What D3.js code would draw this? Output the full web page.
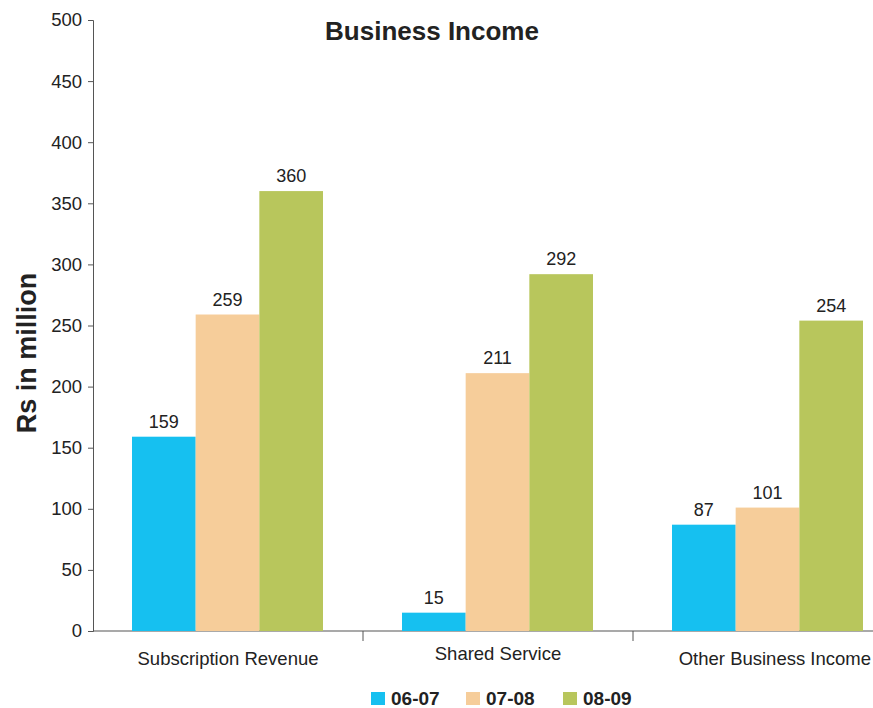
<!DOCTYPE html>
<html>
<head>
<meta charset="utf-8">
<script src="https://cdn.jsdelivr.net/npm/d3@7"></script>
<style>
  body { margin: 0; background: #fff; }
  text { font-family: "Liberation Sans", Arial, sans-serif; fill: #222; }
</style>
</head>
<body>
<div id="chart"></div>
<script>
// chart data
var categories = ["Subscription Revenue", "Shared Service", "Other Business Income"];
var seriesNames = ["06-07", "07-08", "08-09"];
var values0607 = [159, 15, 87];
var values0708 = [259, 211, 101];
var values0809 = [360, 292, 254];
var seriesColors = ["#16c0f0", "#f6cd9a", "#b8c65c"];
var yTicks = [0, 50, 100, 150, 200, 250, 300, 350, 400, 450, 500];

var allValues = [values0607, values0708, values0809];

var svgWidth = 873;
var svgHeight = 708;

var svg = d3.select("#chart")
    .append("svg")
    .attr("width", svgWidth)
    .attr("height", svgHeight);

// scales
var x0 = d3.scaleBand()
    .domain(categories)
    .range([93, 903]);

var x1 = d3.scaleBand()
    .domain(seriesNames)
    .range([39, 230]);

var y = d3.scaleLinear()
    .domain([0, 500])
    .range([631, 20]);

var color = d3.scaleOrdinal()
    .domain(seriesNames)
    .range(seriesColors);

// y axis
var yAxis = svg.append("g")
    .attr("transform", "translate(93,0)")
    .call(d3.axisLeft(y).tickValues(yTicks).tickSize(5).tickPadding(6));
yAxis.select(".domain").attr("stroke", "#555");
yAxis.selectAll(".tick line").attr("stroke", "#555");
yAxis.selectAll(".tick text")
    .style("font-size", "18.5px")
    .attr("fill", "#222");

// x axis line and band ticks
svg.append("line")
    .attr("x1", 93).attr("x2", svgWidth)
    .attr("y1", y(0)).attr("y2", y(0))
    .attr("stroke", "#555")
    .attr("stroke-width", 1.2);

svg.selectAll(".band-tick")
    .data(categories.slice(1))
    .enter()
    .append("line")
    .attr("x1", d => x0(d)).attr("x2", d => x0(d))
    .attr("y1", y(0)).attr("y2", y(0) + 10)
    .attr("stroke", "#555");

// bars
var groups = svg.selectAll(".cat")
    .data(categories)
    .enter()
    .append("g")
    .attr("transform", d => `translate(${x0(d)},0)`);

groups.selectAll("rect")
    .data((d, i) => seriesNames.map((s, j) => ({ series: s, value: allValues[j][i] })))
    .enter()
    .append("rect")
    .attr("x", d => x1(d.series))
    .attr("y", d => y(d.value))
    .attr("width", x1.bandwidth())
    .attr("height", d => y(0) - y(d.value))
    .attr("fill", d => color(d.series));

groups.selectAll(".val")
    .data((d, i) => seriesNames.map((s, j) => ({ series: s, value: allValues[j][i] })))
    .enter()
    .append("text")
    .attr("x", d => x1(d.series) + x1.bandwidth() / 2)
    .attr("y", d => y(d.value) - 9)
    .attr("text-anchor", "middle")
    .style("font-size", "18px")
    .text(d => d.value);

// category labels
var labelY = [665, 660, 665];
svg.selectAll(".cat-label")
    .data(categories)
    .enter()
    .append("text")
    .attr("x", (d, i) => i === 2 ? svgWidth - 2 : x0(d) + x0.bandwidth() / 2)
    .attr("y", (d, i) => labelY[i])
    .attr("text-anchor", (d, i) => i === 2 ? "end" : "middle")
    .style("font-size", "18.5px")
    .text(d => d);

// title
svg.append("text")
    .attr("x", 432)
    .attr("y", 40)
    .attr("text-anchor", "middle")
    .style("font-size", "26px")
    .style("font-weight", "bold")
    .text("Business Income");

// y label
svg.append("text")
    .attr("transform", "rotate(-90)")
    .attr("x", -353)
    .attr("y", 36)
    .attr("text-anchor", "middle")
    .style("font-size", "27px")
    .style("font-weight", "bold")
    .text("Rs in million");

// legend
var legendX = [371, 466, 563];
var legend = svg.selectAll(".legend")
    .data(seriesNames)
    .enter()
    .append("g")
    .attr("transform", (d, i) => `translate(${legendX[i]},692)`);

legend.append("rect")
    .attr("width", 14)
    .attr("height", 13)
    .attr("fill", d => color(d));

legend.append("text")
    .attr("x", 20)
    .attr("y", 13)
    .style("font-size", "19px")
    .style("font-weight", "bold")
    .text(d => d);
</script>
</body>
</html>
